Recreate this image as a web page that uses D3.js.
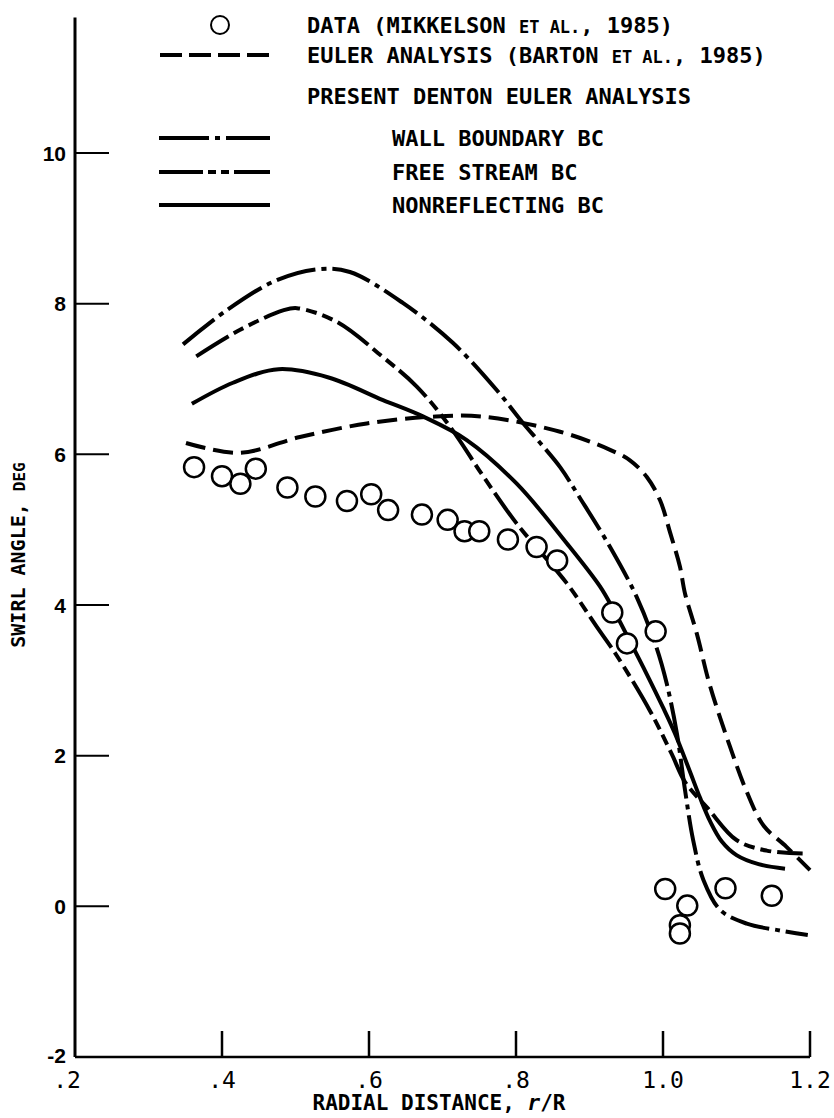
<!DOCTYPE html>
<html>
<head>
<meta charset="utf-8">
<script src="https://cdn.jsdelivr.net/npm/d3@7"></script>
<style>
  body { margin: 0; background: #fff; }
  svg { display: block; }
  text { fill: #000; }
</style>
</head>
<body>
<div id="chart"></div>
<script>
// axis ticks
var xTicks = [0.2, 0.4, 0.6, 0.8, 1.0, 1.2];
var xTickLabels = [".2", ".4", ".6", ".8", "1.0", "1.2"];
var yTicks = [-2, 0, 2, 4, 6, 8, 10];
var yTickLabels = ["-2", "0", "2", "4", "6", "8", "10"];

// measured data (circles)
var dataR = [0.362, 0.400, 0.425, 0.446, 0.489, 0.527, 0.570, 0.603, 0.626, 0.672, 0.707, 0.730, 0.750, 0.789, 0.828, 0.856,
             0.931, 0.951, 0.990, 1.003, 1.033, 1.023, 1.023, 1.085, 1.148];
var dataV = [5.83, 5.71, 5.61, 5.81, 5.56, 5.44, 5.38, 5.47, 5.26, 5.20, 5.13, 4.98, 4.98, 4.87, 4.77, 4.59,
             3.90, 3.49, 3.65, 0.23, 0.01, -0.25, -0.36, 0.24, 0.14];

// Euler analysis (Barton et al.)
var eulerR = [0.351, 0.424, 0.506, 0.597, 0.687, 0.756, 0.860, 0.928, 0.955, 0.978, 0.996, 1.010, 1.023, 1.030, 1.046, 1.063, 1.089, 1.114, 1.137, 1.168, 1.200];
var eulerV = [6.15, 6.02, 6.23, 6.41, 6.50, 6.50, 6.30, 6.06, 5.92, 5.70, 5.39, 4.95, 4.51, 4.15, 3.62, 2.96, 2.18, 1.52, 1.07, 0.79, 0.48];

// Denton: wall boundary BC
var wallR = [0.347, 0.406, 0.474, 0.533, 0.574, 0.646, 0.714, 0.774, 0.810, 0.833, 0.860, 0.887, 0.928, 0.964, 0.991, 1.005, 1.019, 1.030, 1.041, 1.055, 1.078, 1.114, 1.159, 1.197];
var wallV = [7.46, 7.91, 8.31, 8.46, 8.42, 8.01, 7.48, 6.85, 6.41, 6.15, 5.83, 5.42, 4.77, 4.11, 3.44, 2.96, 2.29, 1.54, 0.88, 0.35, -0.05, -0.23, -0.32, -0.38];

// Denton: free stream BC
var freeR = [0.365, 0.424, 0.483, 0.502, 0.556, 0.619, 0.665, 0.710, 0.756, 0.801, 0.869, 0.910, 0.937, 0.982, 1.012, 1.030, 1.061, 1.100, 1.141, 1.190];
var freeV = [7.30, 7.65, 7.91, 7.94, 7.76, 7.29, 6.90, 6.37, 5.70, 5.08, 4.29, 3.71, 3.33, 2.60, 2.02, 1.65, 1.30, 0.88, 0.74, 0.70];

// Denton: nonreflecting BC
var nonrefR = [0.359, 0.415, 0.477, 0.545, 0.619, 0.674, 0.733, 0.801, 0.869, 0.914, 0.932, 0.955, 0.978, 1.000, 1.016, 1.037, 1.050, 1.064, 1.080, 1.100, 1.130, 1.166];
var nonrefV = [6.67, 6.95, 7.13, 7.02, 6.72, 6.50, 6.19, 5.61, 4.82, 4.25, 3.95, 3.52, 3.08, 2.64, 2.30, 1.78, 1.45, 1.13, 0.86, 0.68, 0.56, 0.50];

var width = 834, height = 1118;
var mono = "'DejaVu Sans Mono', 'Liberation Mono', monospace";

// dash patterns (plot / legend)
var dashEuler = "20,8";
var dashWall = "40,6,5,6";
var dashFree = "38,6,11,6,11,6";
var legendDashEuler = "22,7";
var legendDashWall = "50,6,5,6,60";
var legendDashFree = "44,5,8,5,8,5,60";

var svg = d3.select("#chart").append("svg")
    .attr("width", width)
    .attr("height", height);

// scales
var x = d3.scaleLinear().domain([0.2, 1.2]).range([75, 810]);
var y = d3.scaleLinear().domain([-2, 10]).range([1057, 153]);

function zip(rs, vs) {
    return rs.map(function (r, i) { return { r: r, v: vs[i] }; });
}

var line = d3.line()
    .x(function (d) { return x(d.r); })
    .y(function (d) { return y(d.v); })
    .curve(d3.curveCatmullRom.alpha(0.5));

// axes
svg.append("line")
    .attr("x1", x(0.2)).attr("x2", x(0.2))
    .attr("y1", y(-2)).attr("y2", y(11.8))
    .style("stroke", "#000").style("stroke-width", 3);
svg.append("line")
    .attr("x1", x(0.2)).attr("x2", x(1.2))
    .attr("y1", y(-2)).attr("y2", y(-2))
    .style("stroke", "#000").style("stroke-width", 2.5);

// y ticks (pointing inward) and labels
svg.selectAll(".ytick").data(yTicks.filter(function (d) { return d > -2; })).enter().append("line")
    .attr("class", "ytick")
    .attr("x1", x(0.2)).attr("x2", x(0.2) + 34)
    .attr("y1", y).attr("y2", y)
    .style("stroke", "#000").style("stroke-width", 2);
svg.selectAll(".ylab").data(yTicks).enter().append("text")
    .attr("class", "ylab")
    .attr("x", x(0.2) - 9)
    .attr("y", function (d) { return d === -2 ? y(d) - 2 : y(d); })
    .attr("dy", "0.36em")
    .attr("text-anchor", "end")
    .style("font-family", "'Liberation Sans', Arial, sans-serif")
    .style("font-weight", "bold")
    .style("font-size", "21px")
    .text(function (d, i) { return yTickLabels[i]; });

// x ticks (pointing up) and labels
svg.selectAll(".xtick").data(xTicks.filter(function (d) { return d > 0.2; })).enter().append("line")
    .attr("class", "xtick")
    .attr("x1", x).attr("x2", x)
    .attr("y1", y(-2)).attr("y2", y(-2) - 26)
    .style("stroke", "#000").style("stroke-width", 2.5);
svg.selectAll(".xlab").data(xTicks).enter().append("text")
    .attr("class", "xlab")
    .attr("x", function (d) { return d === 0.2 ? x(d) - 8 : x(d); })
    .attr("y", y(-2) + 31)
    .attr("text-anchor", "middle")
    .style("font-family", mono)
    .style("font-size", "23px")
    .text(function (d, i) { return xTickLabels[i]; });

// axis titles
var xt = svg.append("text")
    .attr("x", 439).attr("y", 1110)
    .attr("text-anchor", "middle")
    .style("font-family", mono)
    .style("font-weight", "bold")
    .style("font-size", "21px");
xt.append("tspan").text("RADIAL DISTANCE, ");
xt.append("tspan").style("font-style", "italic").text("r");
xt.append("tspan").text("/R");

var yt = svg.append("text")
    .attr("transform", "translate(25,555) rotate(-90)")
    .attr("text-anchor", "middle")
    .style("font-family", mono)
    .style("font-weight", "bold")
    .style("font-size", "20px");
yt.append("tspan").text("SWIRL ANGLE, ");
yt.append("tspan").style("font-size", "16px").text("DEG");

// curves
var series = [
    { r: eulerR, v: eulerV, dash: dashEuler },
    { r: wallR, v: wallV, dash: dashWall },
    { r: freeR, v: freeV, dash: dashFree },
    { r: nonrefR, v: nonrefV, dash: null }
];
svg.selectAll(".curve").data(series).enter().append("path")
    .attr("class", "curve")
    .attr("d", function (s) { return line(zip(s.r, s.v)); })
    .style("fill", "none")
    .style("stroke", "#000")
    .style("stroke-width", 4)
    .style("stroke-dasharray", function (s) { return s.dash; });

// data circles
svg.selectAll(".pt").data(zip(dataR, dataV)).enter().append("circle")
    .attr("class", "pt")
    .attr("cx", function (d) { return x(d.r); })
    .attr("cy", function (d) { return y(d.v); })
    .attr("r", 10)
    .style("fill", "#fff")
    .style("stroke", "#000")
    .style("stroke-width", 2.5);

// legend
var legend = svg.append("g")
    .style("font-family", mono)
    .style("font-weight", "bold")
    .style("font-size", "22px");

legend.append("circle")
    .attr("cx", 220).attr("cy", 25).attr("r", 9)
    .style("fill", "#fff").style("stroke", "#000").style("stroke-width", 2);

var rows = [
    { y: 55, x1: 160, x2: 269, dash: legendDashEuler },
    { y: 138, x1: 159, x2: 270, dash: legendDashWall },
    { y: 172, x1: 159, x2: 270, dash: legendDashFree },
    { y: 205, x1: 159, x2: 270, dash: null }
];
legend.selectAll("line").data(rows).enter().append("line")
    .attr("x1", function (d) { return d.x1; })
    .attr("x2", function (d) { return d.x2; })
    .attr("y1", function (d) { return d.y; })
    .attr("y2", function (d) { return d.y; })
    .style("stroke", "#000")
    .style("stroke-width", 4)
    .style("stroke-dasharray", function (d) { return d.dash; });

function smallCapsLabel(tx, ty, before, after) {
    var t = legend.append("text").attr("x", tx).attr("y", ty).attr("dy", "0.36em");
    t.append("tspan").text(before);
    t.append("tspan").style("font-size", "17px").text("ET AL.");
    t.append("tspan").text(after);
}
smallCapsLabel(307, 25, "DATA (MIKKELSON ", ", 1985)");
smallCapsLabel(307, 55, "EULER ANALYSIS (BARTON ", ", 1985)");

legend.append("text").attr("x", 307).attr("y", 96).attr("dy", "0.36em")
    .text("PRESENT DENTON EULER ANALYSIS");
legend.append("text").attr("x", 392).attr("y", 138).attr("dy", "0.36em").text("WALL BOUNDARY BC");
legend.append("text").attr("x", 392).attr("y", 172).attr("dy", "0.36em").text("FREE STREAM BC");
legend.append("text").attr("x", 392).attr("y", 205).attr("dy", "0.36em").text("NONREFLECTING BC");
</script>
</body>
</html>
